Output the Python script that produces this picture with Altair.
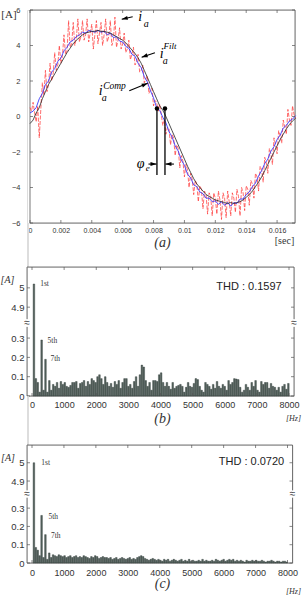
import altair as alt
import pandas as pd

SANS = "Liberation Sans"
SERIF = "Liberation Serif"
INK = "#333333"
FRAME = "#555555"

# ---------------- (a) phase-a current over one period ----------------
RAW_DT = 0.0001    # s, sampling of the measured current i_a
FILT_DT = 0.0002   # s, sampling of the filtered / compensated currents

I_RAW = [
    0.5, 0.3, 0.8, 0.2, -0.3, 0.6, -1.2, 0.4, 1.9, 1.2,
    2.6, 1.4, 1.8, 3.0, 2.0, 2.4, 3.6, 2.6, 2.9, 4.0,
    3.0, 3.4, 4.6, 3.5, 3.7, 5.4, 3.9, 4.1, 5.3, 4.0,
    4.4, 5.5, 4.2, 4.5, 5.4, 4.3, 4.6, 5.5, 4.2, 4.7,
    5.2, 3.8, 4.6, 5.4, 4.1, 4.7, 5.3, 4.0, 4.6, 5.5,
    4.2, 4.5, 5.4, 4.0, 4.3, 5.6, 3.9, 4.3, 5.0, 3.8,
    4.1, 4.7, 3.6, 3.8, 4.3, 3.2, 3.5, 3.9, 2.9, 3.1,
    3.5, 2.5, 2.6, 2.9, 1.9, 2.1, 2.3, 1.3, 1.5, 1.6,
    0.6, 0.9, 0.8, 0.3, 0.7, 0.1, -0.5, -0.2, -1.0, -0.6,
    -0.7, -1.6, -1.0, -1.2, -2.2, -1.6, -1.8, -2.9, -2.2, -2.5,
    -3.4, -2.7, -3.0, -4.0, -3.2, -3.5, -4.4, -3.6, -3.8, -4.8,
    -3.9, -4.1, -5.2, -4.2, -4.4, -5.5, -4.3, -4.5, -5.6, -4.3,
    -4.6, -5.5, -4.2, -4.7, -5.8, -4.3, -4.6, -5.7, -4.2, -4.8,
    -5.6, -4.3, -4.6, -5.4, -4.1, -4.5, -5.6, -4.0, -4.3, -5.3,
    -3.9, -4.1, -5.0, -3.6, -3.8, -4.6, -3.2, -3.4, -4.2, -2.8,
    -3.0, -3.7, -2.3, -2.6, -3.2, -1.8, -2.1, -2.7, -1.2, -1.6,
    -2.1, -0.8, -1.1, -1.5, -0.2, -0.6, -1.0, 0.4, -0.2, -0.5,
    0.6, 0.1, -0.1,
]

I_FILT = [
    0.2, 0.3, 0.5, 1.0, 1.3, 1.8, 2.0, 2.5, 2.7, 3.1,
    3.3, 3.7, 3.9, 4.2, 4.3, 4.5, 4.6, 4.75, 4.7, 4.85,
    4.8, 4.75, 4.85, 4.75, 4.8, 4.6, 4.7, 4.45, 4.5, 4.25,
    4.2, 3.95, 3.85, 3.5, 3.4, 3.0, 2.75, 2.25, 1.95, 1.45,
    1.05, 0.5, 0.35, -0.05, -0.35, -0.85, -1.15, -1.65, -1.95, -2.45,
    -2.75, -3.25, -3.45, -3.85, -3.95, -4.25, -4.35, -4.6, -4.6, -4.8,
    -4.75, -4.95, -4.8, -5.0, -4.85, -5.05, -4.85, -4.9, -4.65, -4.65,
    -4.4, -4.25, -3.95, -3.75, -3.35, -3.05, -2.65, -2.4, -1.95, -1.7,
    -1.3, -1.05, -0.65, -0.5, -0.25, -0.15, 0.05,
]

I_COMP = [
    -0.4, -0.2, 0.2, 0.5, 1.0, 1.4, 1.8, 2.1, 2.4, 2.7,
    3.0, 3.3, 3.6, 3.85, 4.1, 4.3, 4.45, 4.6, 4.7, 4.75,
    4.8, 4.8, 4.85, 4.8, 4.8, 4.75, 4.7, 4.6, 4.5, 4.4,
    4.3, 4.15, 3.95, 3.75, 3.55, 3.3, 3.0, 2.6, 2.2, 1.8,
    1.4, 1.0, 0.6, 0.35, 0.0, -0.4, -0.8, -1.2, -1.6, -2.0,
    -2.4, -2.8, -3.15, -3.5, -3.8, -4.0, -4.2, -4.4, -4.5, -4.6,
    -4.7, -4.75, -4.8, -4.85, -4.9, -4.85, -4.9, -4.85, -4.8, -4.7,
    -4.55, -4.4, -4.2, -3.95, -3.7, -3.4, -3.05, -2.7, -2.35, -2.0,
    -1.65, -1.3, -1.0, -0.7, -0.45, -0.25, -0.1,
]

A_T_END = 0.01716
A_X_TICKS = [0, 0.002, 0.004, 0.006, 0.008, 0.01, 0.012, 0.014, 0.016]
A_Y_TICKS = [-6, -4, -2, 0, 2, 4, 6]

# arrows: tail (t0, v0) -> head (t1, v1), heading in degrees (0 = up, clockwise)
ARROW_T0 = [0.00665, 0.00809, 0.00643, 0.00767, 0.00932]
ARROW_V0 = [5.62, 3.59, 1.45, -2.68, -2.68]
ARROW_T1 = [0.00594, 0.00723, 0.00762, 0.00819, 0.00877]
ARROW_V1 = [5.48, 3.34, 1.87, -2.68, -2.68]
ARROW_DIR = [257, 251, 68, 90, 270]

# phase-error markers
PHI_T = [0.00822, 0.00874]
PHI_TOP = 0.45
PHI_BOTTOM = -3.30

# symbol labels, drawn piece by piece (base letter, sub- and superscripts)
SYM_TEXT = ["i", "a", "i", "Filt", "a", "i", "Comp", "a", "\u03c6", "e"]
SYM_T = [0.00714, 0.00752, 0.00853, 0.00906, 0.00875, 0.00458, 0.00547, 0.00480, 0.00717, 0.00762]
SYM_V = [5.61, 5.22, 3.52, 3.97, 3.13, 1.44, 1.74, 1.05, -2.68, -2.88]
SYM_SIZE = [14, 10, 14, 9, 10, 14, 9.5, 10, 14, 9]

# ---------------- (b), (c) harmonic spectra ----------------
F_FUND = 60
HZ_TICKS = [0, 1000, 2000, 3000, 4000, 5000, 6000, 7000, 8000]
ORDER_NAMES = ["1st", "5th", "7th"]

AMP_B = [
    5.02, 0.09, 0.07, 0.02, 0.29, 0.03, 0.19, 0.02, 0.08, 0.03,
    0.06, 0.05, 0.07, 0.04, 0.075, 0.06, 0.07, 0.05, 0.045, 0.055,
    0.07, 0.07, 0.075, 0.04, 0.065, 0.07, 0.08, 0.05, 0.075, 0.06,
    0.09, 0.08, 0.07, 0.10, 0.11, 0.09, 0.06, 0.10, 0.07, 0.05,
    0.065, 0.045, 0.075, 0.06, 0.08, 0.04, 0.07, 0.09, 0.09, 0.05,
    0.06, 0.04, 0.075, 0.10, 0.05, 0.11, 0.16, 0.15, 0.08, 0.05,
    0.07, 0.03, 0.08, 0.08, 0.075, 0.11, 0.12, 0.07, 0.05, 0.07,
    0.05, 0.035, 0.07, 0.04, 0.05, 0.055, 0.06, 0.05, 0.02, 0.045,
    0.07, 0.05, 0.045, 0.065, 0.09, 0.085, 0.05, 0.03, 0.02, 0.07,
    0.06, 0.05, 0.035, 0.06, 0.04, 0.075, 0.05, 0.04, 0.06, 0.05,
    0.03, 0.08, 0.06, 0.07, 0.09, 0.088, 0.085, 0.045, 0.02, 0.03,
    0.06, 0.045, 0.03, 0.07, 0.05, 0.08, 0.03, 0.02, 0.075, 0.06,
    0.07, 0.07, 0.04, 0.065, 0.05, 0.045, 0.03, 0.045, 0.02, 0.05,
    0.06, 0.035, 0.065,
]
THD_B = "THD : 0.1597"
ORDER_B_HZ = [254, 484, 573]
ORDER_B_AMP = [5.02, 0.287, 0.19]

AMP_C = [
    5.0, 0.085, 0.07, 0.04, 0.26, 0.03, 0.155, 0.02, 0.055, 0.03,
    0.045, 0.04, 0.035, 0.045, 0.04, 0.035, 0.04, 0.03, 0.035, 0.04,
    0.03, 0.035, 0.04, 0.03, 0.035, 0.03, 0.04, 0.035, 0.03, 0.025,
    0.035, 0.03, 0.04, 0.035, 0.025, 0.03, 0.035, 0.03, 0.03, 0.025,
    0.03, 0.02, 0.025, 0.03, 0.02, 0.025, 0.03, 0.025, 0.02, 0.025,
    0.03, 0.02, 0.025, 0.02, 0.03, 0.035, 0.04, 0.035, 0.025, 0.02,
    0.015, 0.02, 0.025, 0.02, 0.015, 0.02, 0.015, 0.01, 0.02, 0.015,
    0.02, 0.01, 0.015, 0.02, 0.015, 0.01, 0.015, 0.02, 0.01, 0.015,
    0.01, 0.02, 0.01, 0.015, 0.01, 0.01, 0.015, 0.01, 0.02, 0.01,
    0.015, 0.01, 0.01, 0.015, 0.01, 0.02, 0.015, 0.01, 0.015, 0.02,
    0.01, 0.015, 0.02, 0.015, 0.02, 0.01, 0.015, 0.01, 0.015, 0.01,
    0.005, 0.015, 0.01, 0.01, 0.015, 0.01, 0.015, 0.01, 0.01, 0.015,
    0.01, 0.005, 0.01, 0.01, 0.015, 0.01, 0.005, 0.01, 0.01, 0.005,
    0.01, 0.01, 0.005,
]
THD_C = "THD : 0.0720"
ORDER_C_HZ = [293, 514, 595]
ORDER_C_AMP = [5.0, 0.25, 0.148]

ONE = pd.DataFrame({"_": [0]})


def fixed_text(txt, x, y, size, font=SERIF, style="normal", align="center", color=INK):
    return alt.Chart(ONE).mark_text(
        text=txt, font=font, fontSize=size, fontStyle=style, align=align,
        baseline="middle", color=color,
    ).encode(x=alt.value(x), y=alt.value(y))


def frame(x0, x1, h):
    return alt.Chart(ONE).mark_rect(fillOpacity=0, stroke=FRAME, strokeWidth=0.8).encode(
        x=alt.value(x0), x2=alt.value(x1), y=alt.value(0), y2=alt.value(h)
    )


def gap(h):
    # empty row that only holds vertical space between panels
    return alt.Chart(ONE).mark_text(text=" ", opacity=0).encode(
        x=alt.value(5), y=alt.value(1)).properties(width=1, height=h)


# ---------------- panel (a) ----------------
# the time-axis frame sits a little right of the spectra frames: INSET pixels
INSET = 3
W_IN = 265
W_A, H_A = W_IN + INSET, 213
T_START = -A_T_END * INSET / W_IN
xs_a = alt.Scale(domain=[T_START, A_T_END], nice=False, zero=False)
ys_a = alt.Scale(domain=[-6, 6], nice=False)
ax_xa = alt.Axis(values=A_X_TICKS, format="~g", title=None, grid=False, ticks=False, tickSize=0,
                 domain=False, labelFontSize=7, labelFont=SANS, labelColor=INK, labelPadding=3,
                 labelFlush=False, labelOverlap=False)
ax_ya = alt.Axis(values=A_Y_TICKS, title=None, grid=False, ticks=False, tickSize=0, domain=False,
                 labelFontSize=7.5, labelFont=SANS, labelColor=INK, labelPadding=4 + INSET,
                 labelFlush=False, labelOverlap=False)


def XA(f):
    return alt.X(f"{f}:Q", scale=xs_a, axis=ax_xa)


def YA(f):
    return alt.Y(f"{f}:Q", scale=ys_a, axis=ax_ya)


raw_df = pd.DataFrame({"t": [i * RAW_DT for i in range(len(I_RAW))], "v": I_RAW})
filt_df = pd.DataFrame({"t": [i * FILT_DT for i in range(len(I_FILT))], "v": I_FILT})
comp_df = pd.DataFrame({"t": [i * FILT_DT for i in range(len(I_COMP))], "v": I_COMP})

red = alt.Chart(raw_df).mark_line(color="#ff3030", strokeWidth=0.7, strokeDash=[4, 1.5]).encode(
    x=XA("t"), y=YA("v"))
blue = alt.Chart(filt_df).mark_line(color="#3a3aff", strokeWidth=0.9).encode(x=XA("t"), y=YA("v"))
black = alt.Chart(comp_df).mark_line(color="#222222", strokeWidth=0.8).encode(x=XA("t"), y=YA("v"))

xt_a = pd.DataFrame({"t": A_X_TICKS})
yt_a = pd.DataFrame({"v": A_Y_TICKS})
tick_a = [
    alt.Chart(xt_a).mark_rule(color=FRAME, strokeWidth=0.7).encode(
        x=XA("t"), y=alt.value(H_A), y2=alt.value(H_A - 3)),
    alt.Chart(xt_a).mark_rule(color=FRAME, strokeWidth=0.7).encode(
        x=XA("t"), y=alt.value(0), y2=alt.value(3)),
    alt.Chart(yt_a).mark_rule(color=FRAME, strokeWidth=0.7).encode(
        y=YA("v"), x=alt.value(INSET), x2=alt.value(INSET + 3)),
    alt.Chart(yt_a).mark_rule(color=FRAME, strokeWidth=0.7).encode(
        y=YA("v"), x=alt.value(W_A), x2=alt.value(W_A - 3)),
]

phi_df = pd.DataFrame({"t": PHI_T, "top": [PHI_TOP] * len(PHI_T), "bot": [PHI_BOTTOM] * len(PHI_T)})
phi_lines = alt.Chart(phi_df).mark_rule(color="black", strokeWidth=1.3).encode(
    x=XA("t"), y=YA("top"), y2="bot:Q")
phi_dots = alt.Chart(phi_df).mark_circle(color="black", size=20, opacity=1).encode(x=XA("t"), y=YA("top"))

arrow_df = pd.DataFrame({"t0": ARROW_T0, "v0": ARROW_V0, "t1": ARROW_T1, "v1": ARROW_V1, "dir": ARROW_DIR})
shafts = alt.Chart(arrow_df).mark_rule(color="black", strokeWidth=1.1).encode(
    x=XA("t0"), y=YA("v0"), x2="t1:Q", y2="v1:Q")
heads = alt.Chart(arrow_df).mark_point(
    shape="M0,0L1,3L-1,3Z", filled=True, size=16, color="black", opacity=1
).encode(x=XA("t1"), y=YA("v1"), angle=alt.Angle("dir:Q", scale=None))

sym_df = pd.DataFrame({"t": SYM_T, "v": SYM_V, "txt": SYM_TEXT, "fs": SYM_SIZE})
symbols = alt.Chart(sym_df).mark_text(
    font=SERIF, fontStyle="italic", align="center", baseline="middle", color="black"
).encode(x=XA("t"), y=YA("v"), text="txt:N", size=alt.Size("fs:Q", scale=None))

panel_a = alt.layer(
    frame(INSET, W_A, H_A), red, blue, black, *tick_a, phi_lines, phi_dots, shafts, heads, symbols,
    fixed_text("[A]", -18, 5, 11),
    fixed_text("(a)", 135.5, 233, 14, style="italic"),
    fixed_text("[sec]", 257.5, 231, 10),
).properties(width=W_A, height=H_A)


# ---------------- panels (b), (c) ----------------
def spectrum(amps, thd, tag, w, h, y_top, upper_at, break_at, order_hz, order_amp,
             thd_xy, tag_xy, hz_xy, a_xy, label_pad):
    shift = 4.9 - upper_at          # upper segment 4.9.. is drawn just above the break
    to_plot = f"datum.amp > 1 ? datum.amp - {shift} : datum.amp"
    xs = alt.Scale(domain=[0, 8000], nice=False, zero=False)
    ys = alt.Scale(domain=[0, y_top], nice=False, zero=False)
    y_ticks = [0, 0.1, 0.2, 0.3, upper_at, upper_at + 0.1]
    ax_x = alt.Axis(values=HZ_TICKS, format="d", title=None, grid=False, ticks=False, tickSize=0,
                    domain=False, labelFontSize=9, labelFont=SANS, labelColor=INK,
                    labelPadding=label_pad, labelFlush=False, labelOverlap=False)
    ax_y = alt.Axis(values=y_ticks, title=None, grid=False, ticks=False, tickSize=0, domain=False,
                    labelExpr=f"datum.value > 0.4 ? format(datum.value + {shift}, '.2~f') : format(datum.value, '.1~f')",
                    labelFontSize=9.5, labelFont=SANS, labelColor=INK, labelPadding=3,
                    labelFlush=False, labelOverlap=False)

    def X(f):
        return alt.X(f"{f}:Q", scale=xs, axis=ax_x)

    def Y(f):
        return alt.Y(f"{f}:Q", scale=ys, axis=ax_y)

    df = pd.DataFrame({"f": [F_FUND * (i + 1) for i in range(len(amps))], "amp": amps})
    bars = alt.Chart(df).transform_calculate(y=to_plot).mark_bar(
        size=1.6, color="#56635e", stroke="#2c3834", strokeWidth=0.4
    ).encode(x=X("f"), y=Y("y"))

    xt = pd.DataFrame({"f": HZ_TICKS})
    yt = pd.DataFrame({"y": y_ticks})
    ticks = [
        alt.Chart(xt).mark_rule(color=FRAME, strokeWidth=0.7).encode(
            x=X("f"), y=alt.value(h), y2=alt.value(h - 3)),
        alt.Chart(xt).mark_rule(color=FRAME, strokeWidth=0.7).encode(
            x=X("f"), y=alt.value(0), y2=alt.value(3)),
        alt.Chart(yt).mark_rule(color=FRAME, strokeWidth=0.7).encode(
            y=Y("y"), x=alt.value(0), x2=alt.value(3)),
        alt.Chart(yt).mark_rule(color=FRAME, strokeWidth=0.7).encode(
            y=Y("y"), x=alt.value(w), x2=alt.value(w - 3)),
    ]

    brk = pd.DataFrame({"y": [break_at], "lo": [break_at - 0.02], "hi": [break_at + 0.02]})
    gaps = [
        alt.Chart(brk).mark_rect(color="white").encode(
            x=alt.value(-3), x2=alt.value(4), y=Y("lo"), y2="hi:Q"),
        alt.Chart(brk).mark_rect(color="white").encode(
            x=alt.value(w - 3), x2=alt.value(w + 3), y=Y("lo"), y2="hi:Q"),
    ]
    marks = [
        alt.Chart(brk).mark_text(text="\u2248", font=SANS, fontSize=10, color=INK, baseline="middle").encode(
            x=alt.value(0), y=Y("y")),
        alt.Chart(brk).mark_text(text="\u2248", font=SANS, fontSize=10, color=INK, baseline="middle").encode(
            x=alt.value(w), y=Y("y")),
    ]

    odf = pd.DataFrame({"f": order_hz, "amp": order_amp, "txt": ORDER_NAMES})
    orders = alt.Chart(odf).transform_calculate(y=to_plot).mark_text(
        font=SERIF, fontSize=7.5, align="left", baseline="middle", color=INK
    ).encode(x=X("f"), y=Y("y"), text="txt:N")

    return alt.layer(
        frame(0, w, h), bars, *ticks, *gaps, *marks, orders,
        fixed_text(thd, thd_xy[0], thd_xy[1], 11, font=SANS, color="#222222"),
        fixed_text(tag, tag_xy[0], tag_xy[1], 14, style="italic"),
        fixed_text("[Hz]", hz_xy[0], hz_xy[1], 8, style="italic"),
        fixed_text("[A]", a_xy[0], a_xy[1], 10, style="italic"),
    ).properties(width=w, height=h)


panel_b = spectrum(AMP_B, THD_B, "(b)", 267, 129, 0.668, 0.46, 0.378, ORDER_B_HZ, ORDER_B_AMP,
                   (222, 20), (135.5, 152), (266.5, 152), (-19.5, 13), 4)
panel_c = spectrum(AMP_C, THD_C, "(c)", 265.5, 118, 0.645, 0.448, 0.377, ORDER_C_HZ, ORDER_C_AMP,
                   (224.5, 16.7), (135.5, 139), (266.5, 146.7), (-19, 13.3), 5)

chart = alt.vconcat(
    panel_a, gap(44), panel_b, gap(49), panel_c, spacing=0, bounds="flush"
).properties(
    padding={"left": 0, "top": 5, "right": 0, "bottom": 0}
).configure_view(stroke="transparent").configure(background="white")

chart.save("out.html", embed_options={"renderer": "svg", "actions": False})
